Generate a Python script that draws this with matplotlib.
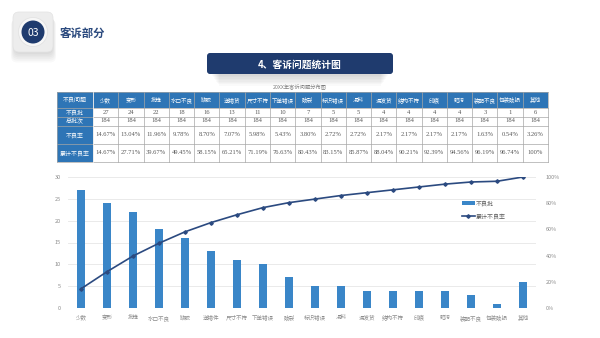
import matplotlib
matplotlib.use("Agg")
import matplotlib.pyplot as plt
from matplotlib.patches import FancyBboxPatch, Rectangle, Circle
import numpy as np

plt.rcParams['font.family'] = ['Noto Sans CJK SC', 'DejaVu Sans']

# ---------------- data ----------------
table_categories = ["少数", "变形", "批锋", "水口不良", "缺胶", "送错货", "尺寸不符", "下单错误", "破裂",
                    "标识错误", "混料", "漏发货", "结构不符", "印痕", "脏污", "装配不良", "包装破损", "其他"]
chart_categories = ["少数", "变形", "批锋", "水口不良", "缺胶", "送错件", "尺寸不符", "下单错误", "破裂",
                    "标识错误", "混料", "漏发货", "结构不符", "印痕", "脏污", "装配不良", "包装破损", "其他"]
defect_lots = [27, 24, 22, 18, 16, 13, 11, 10, 7, 5, 5, 4, 4, 4, 4, 3, 1, 6]
total_lots = [184] * 18
defect_rate = [14.67, 13.04, 11.96, 9.78, 8.70, 7.07, 5.98, 5.43, 3.80, 2.72, 2.72, 2.17, 2.17, 2.17, 2.17, 1.63, 0.54, 3.26]
cum_rate = [14.67, 27.71, 39.67, 49.45, 58.15, 65.21, 71.19, 76.63, 80.43, 83.15, 85.87, 88.04, 90.21, 92.39,
            94.56, 96.19, 96.74, 100]
row_labels = ["不良问题", "不良批", "总批次", "不良率", "累计不良率"]
left_ticks = [0, 5, 10, 15, 20, 25, 30]
right_ticks = [0, 20, 40, 60, 80, 100]

NAVY = "#1F3B6E"
BLUE = "#2E75B6"
BAR = "#3A86C8"
LINE = "#2B4A80"
GRAY = "#8C8C8C"

fig = plt.figure(figsize=(6.0, 3.38), dpi=100)
fig.patch.set_facecolor("white")

bg = fig.add_axes([0, 0, 1, 1], zorder=0)
bg.set_xlim(0, 600)
bg.set_ylim(338, 0)
bg.axis("off")

# ---- header badge ----
for i in range(6):
    bg.add_patch(FancyBboxPatch((14 - i * 0.6, 15 + i * 0.9), 39 + i * 1.2, 39 + i * 0.8,
                                boxstyle="round,pad=0,rounding_size=6",
                                fc="#000000", ec="none", alpha=0.025))
bg.add_patch(FancyBboxPatch((13, 12), 40, 40, boxstyle="round,pad=0,rounding_size=6",
                            fc="#EDEDED", ec="#E2E2E2", lw=0.5))
bg.add_patch(Circle((33, 32), 14.5, fc="#F7F7F7", ec="#E0E0E0", lw=0.5))
bg.add_patch(Circle((33, 32), 11.5, fc=NAVY, ec="none"))
bg.text(33, 32, "03", color="white", fontsize=7.5, ha="center", va="center_baseline")
bg.text(60, 32, "客诉部分", color="#2B4A7E", fontsize=8.2, fontweight="bold", ha="left", va="center_baseline")

# ---- title banner ----
for i in range(8):
    bg.add_patch(Rectangle((212 + i, 74), 176 - 2 * i, 2 + i * 1.4, fc="#000000", ec="none", alpha=0.02))
bg.add_patch(FancyBboxPatch((207, 53), 186, 21, boxstyle="round,pad=0,rounding_size=3",
                            fc=NAVY, ec="none"))
bg.text(300, 63.5, "4、客诉问题统计图", color="white", fontsize=7, fontweight="bold",
        ha="center", va="center_baseline")
bg.text(300, 86.5, "20XX年客诉问题分布图", color="#7F7F7F", fontsize=3.8, ha="center", va="center_baseline")

# ---- table ----
tx0, tx1 = 57, 548
first_w = 36
ncol = len(table_categories)
cw = (tx1 - tx0 - first_w) / ncol
row_edges = [92, 107.5, 116.5, 125.5, 144, 162]
bg.add_patch(Rectangle((tx0, row_edges[0]), tx1 - tx0, row_edges[1] - row_edges[0], fc=BLUE, ec="none"))
bg.add_patch(Rectangle((tx0, row_edges[0]), first_w, row_edges[-1] - row_edges[0], fc=BLUE, ec="none"))
for y in row_edges:
    bg.plot([tx0, tx1], [y, y], color="#A6A6A6", lw=0.5)
for j in range(ncol + 1):
    xx = tx0 + first_w + j * cw
    bg.plot([xx, xx], [row_edges[0], row_edges[-1]], color="#A6A6A6", lw=0.5)
bg.plot([tx0, tx0], [row_edges[0], row_edges[-1]], color="#A6A6A6", lw=0.5)
bg.plot([tx0 + first_w, tx0 + first_w], [row_edges[0], row_edges[-1]], color="white", lw=0.5)

def fmt_pct(v):
    return "100%" if v >= 100 else f"{v:.2f}%"

rows = [table_categories, [str(v) for v in defect_lots], [str(v) for v in total_lots],
        [fmt_pct(v) for v in defect_rate], [fmt_pct(v) for v in cum_rate]]
for r in range(5):
    yc = (row_edges[r] + row_edges[r + 1]) / 2
    bg.text(tx0 + first_w / 2, yc, row_labels[r], color="white", fontsize=4.3, ha="center",
            va="center_baseline")
    for j in range(ncol):
        xc = tx0 + first_w + (j + 0.5) * cw
        if r == 0:
            bg.text(xc, yc, rows[r][j], color="white", fontsize=4.0, ha="center", va="center_baseline")
        else:
            bg.text(xc, yc, rows[r][j], color="#595959", fontsize=4.7, ha="center", va="center",
                    family=["Liberation Serif", "DejaVu Serif"])

# ---- chart ----
ax = fig.add_axes([68 / 600, (338 - 308) / 338, 468 / 600, 131 / 338], zorder=2)
ax.patch.set_alpha(0)
x = np.arange(len(chart_categories))
bars = ax.bar(x, defect_lots, width=0.28, color=BAR, label="不良批", zorder=3)
ax.set_xlim(-0.5, len(chart_categories) - 0.5)
ax.set_ylim(0, 30)
ax.set_yticks(left_ticks)
ax.set_yticklabels([str(t) for t in left_ticks])
ax.set_xticks(x)
ax.set_xticklabels(chart_categories)
ax.tick_params(axis="both", length=0, labelsize=4, colors=GRAY, pad=5)
ax.grid(axis="y", color="#E6E6E6", lw=0.6, zorder=0)
for s in ax.spines.values():
    s.set_visible(False)

ax2 = ax.twinx()
ax2.set_ylim(0, 1.0)
ln, = ax2.plot(x, np.array(cum_rate) / 100, color=LINE, lw=1.2, marker="D", markersize=1.8,
               label="累计不良率", zorder=4)
ax2.set_yticks([t / 100 for t in right_ticks])
ax2.set_yticklabels([f"{t}%" for t in right_ticks])
ax2.tick_params(axis="y", length=0, labelsize=4, colors=GRAY, pad=7)
for s in ax2.spines.values():
    s.set_visible(False)

ax2.legend([bars, ln], ["不良批", "累计不良率"], loc="upper left", bbox_to_anchor=(0.83, 0.86),
           frameon=False, fontsize=4.3, labelcolor="#595959", handlelength=2.2, handletextpad=0.2,
           labelspacing=1.2)

fig.savefig("out.png", dpi=100)
